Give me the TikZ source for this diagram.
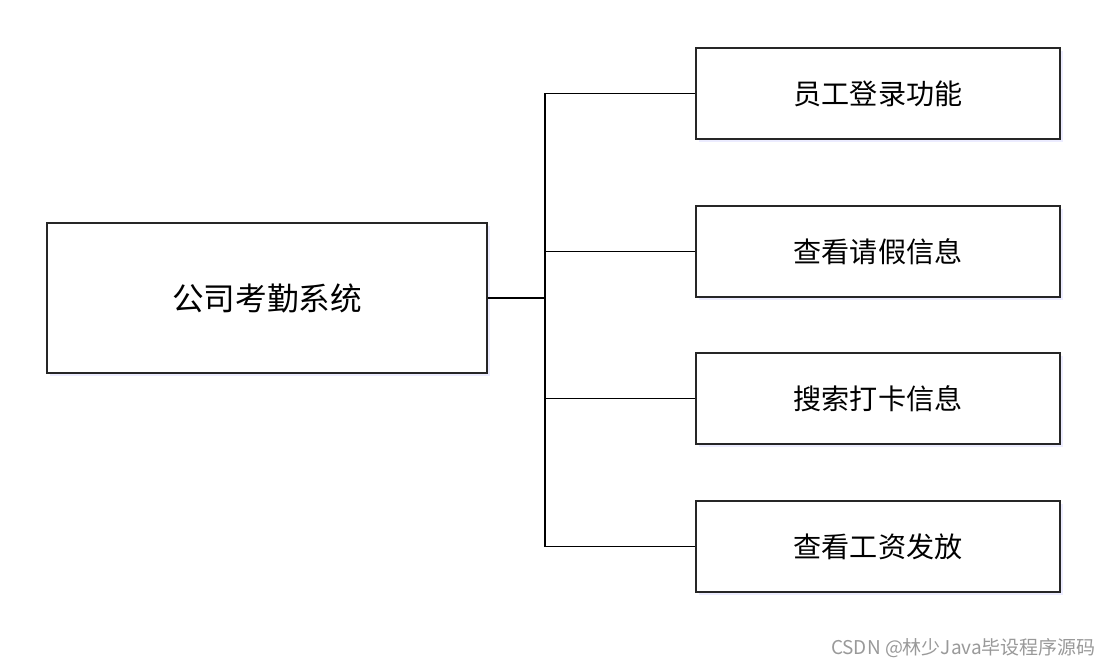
\documentclass[tikz,border=0pt]{standalone}
\usepackage{fontspec}
\setmainfont{Noto Sans CJK SC}
\usepackage{tikz}
\usetikzlibrary{positioning,shadows}
\tikzset{
    sysbox/.style={rectangle, draw=black!85, line width=0.6pt, minimum width=8.8cm, minimum height=3cm, align=center, font=\fontsize{18}{21}\selectfont, fill=white, drop shadow={fill=blue!12, shadow xshift=0.05cm, shadow yshift=-0.06cm, opacity=0.6}},
    funcbox/.style={rectangle, draw=black!85, line width=0.6pt, minimum width=7.28cm, minimum height=1.82cm, align=center, font=\fontsize{16}{19}\selectfont, fill=white, drop shadow={fill=blue!12, shadow xshift=0.05cm, shadow yshift=-0.06cm, opacity=0.6}},
    link/.style={line width=0.8pt, black},
    wmark/.style={font=\fontsize{10.8}{12}\selectfont, text=black!40},
}

\begin{document}
\begin{tikzpicture}
    \useasboundingbox (0,0) rectangle (22.32,-13.38);

    \node[sysbox] (sys) at (5.34,-5.96) {公司考勤系统};
    \node[funcbox] (login) at (17.56,-1.87) {员工登录功能};
    \node[funcbox] (leave) at (17.56,-5.03) {查看请假信息};
    \node[funcbox] (punch) at (17.56,-7.97) {搜索打卡信息};
    \node[funcbox] (wage) at (17.56,-10.93) {查看工资发放};

    \coordinate (bus) at (10.9,-5.96);
    \draw[link] (sys.east) -- (bus);
    \draw[link] (bus) |- (login.west);
    \draw[link] (bus) |- (leave.west);
    \draw[link] (bus) |- (punch.west);
    \draw[link] (bus) |- (wage.west);

    \node[wmark, anchor=east] (wm) at (22.04,-12.96) {CSDN @林少Java毕设程序源码};
\end{tikzpicture}
\end{document}
